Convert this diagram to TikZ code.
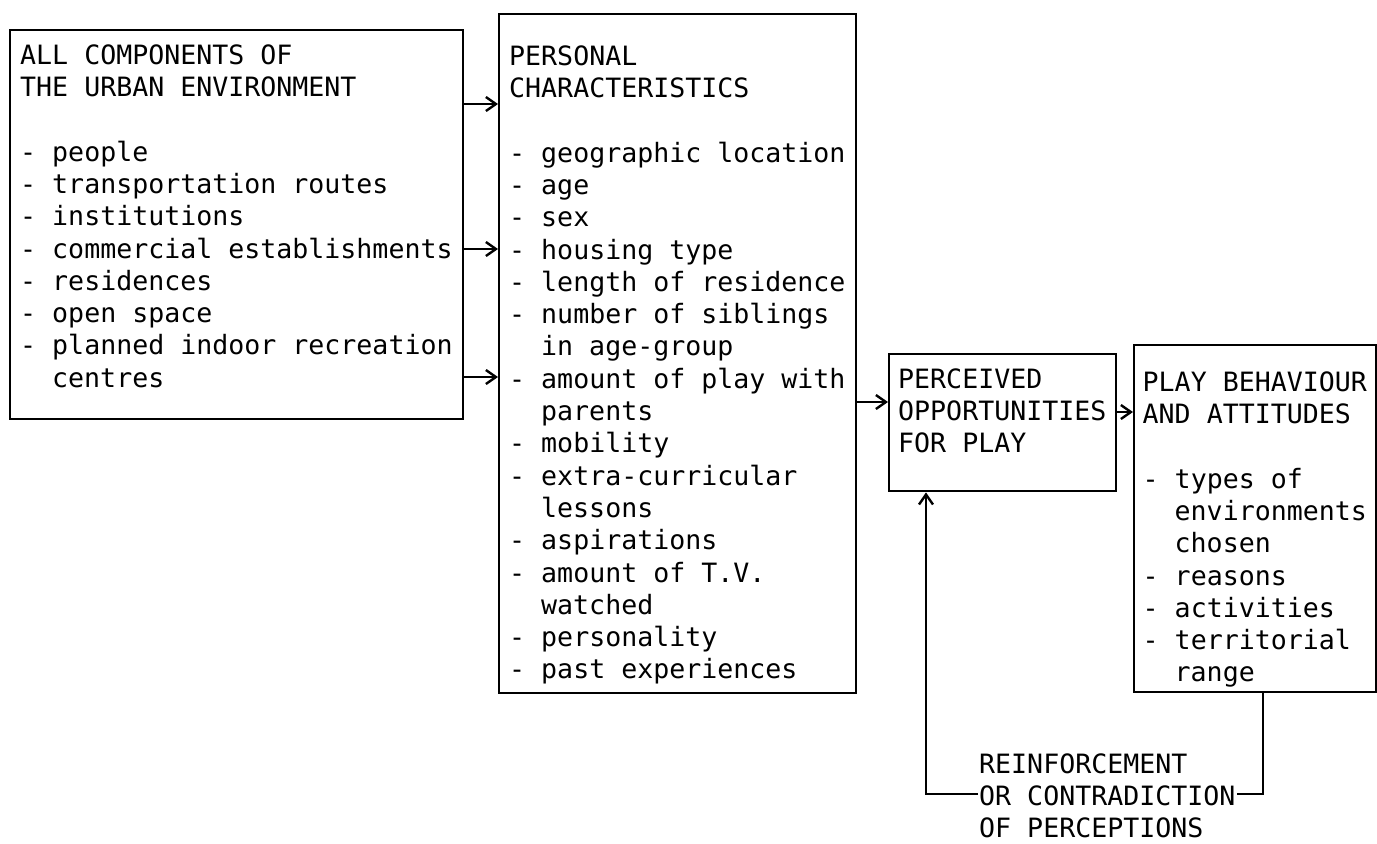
\documentclass[tikz,border=0pt]{standalone}
\usepackage{fontspec}
\newfontfamily\typewriter{DejaVu Sans Mono}
\usetikzlibrary{arrows.meta, positioning}
\newcommand{\contline}{\hspace*{16pt}}

\begin{document}
\begin{tikzpicture}[x=0.5pt, y=-0.5pt, line width=1.2pt,
    every node/.style={font=\typewriter\fontsize{13.3pt}{16.15pt}\selectfont, inner sep=0pt,
        execute at begin node={\spaceskip=8.007pt\relax\hyphenpenalty=10000\relax}},
    box/.style={draw, anchor=north west, align=left, inner xsep=5pt, inner ysep=0pt},
    flow/.style={-{Straight Barb[length=5pt, width=7pt]}}]
    \useasboundingbox (0,0) rectangle (1377,843);

    \node[box, text width=216.5pt, text height=17pt, text depth=177.5pt] (env) at (9,29)
        {ALL COMPONENTS OF\\THE URBAN ENVIRONMENT\\[16.15pt]- people\\- transportation routes\\- institutions\\- commercial establishments\\- residences\\- open space\\- planned indoor recreation\\\contline centres};
    \node[box, text width=168.5pt, text height=25.5pt, text depth=314pt] (pers) at (498,13)
        {PERSONAL\\CHARACTERISTICS\\[16.15pt]- geographic location\\- age\\- sex\\- housing type\\- length of residence\\- number of siblings\\\contline in age-group\\- amount of play with\\\contline parents\\- mobility\\- extra-curricular\\\contline lessons\\- aspirations\\- amount of T.V.\\\contline watched\\- personality\\- past experiences};
    \node[box, text width=104.5pt, inner xsep=4.5pt, text height=17pt, text depth=51.5pt] (perc) at (888,353)
        {PERCEIVED\\OPPORTUNITIES\\FOR PLAY};
    \node[box, text width=112.5pt, inner xsep=4.25pt, text height=23pt, text depth=150.5pt] (play) at (1133,344)
        {PLAY BEHAVIOUR\\AND ATTITUDES\\[16.15pt]- types of\\\contline environments\\\contline chosen\\- reasons\\- activities\\- territorial\\\contline range};
    \node[anchor=base west, align=left, text width=128.5pt, text height=11pt, text depth=32pt] (fb) at (978,773)
        {REINFORCEMENT\\OR CONTRADICTION\\OF PERCEPTIONS};

    \draw[flow] (env.east |- 0,104) -- (pers.west |- 0,104);
    \draw[flow] (env.east |- 0,249) -- (pers.west |- 0,249);
    \draw[flow] (env.east |- 0,377) -- (pers.west |- 0,377);
    \draw[flow] (pers.east |- 0,402) -- (perc.west |- 0,402);
    \draw[flow] (perc.east |- 0,412) -- (play.west |- 0,412);
    \draw (play.south -| 1263,0) |- (fb.east);
    \draw[flow] (fb.west) -| (perc.south -| 926,0);
\end{tikzpicture}
\end{document}
